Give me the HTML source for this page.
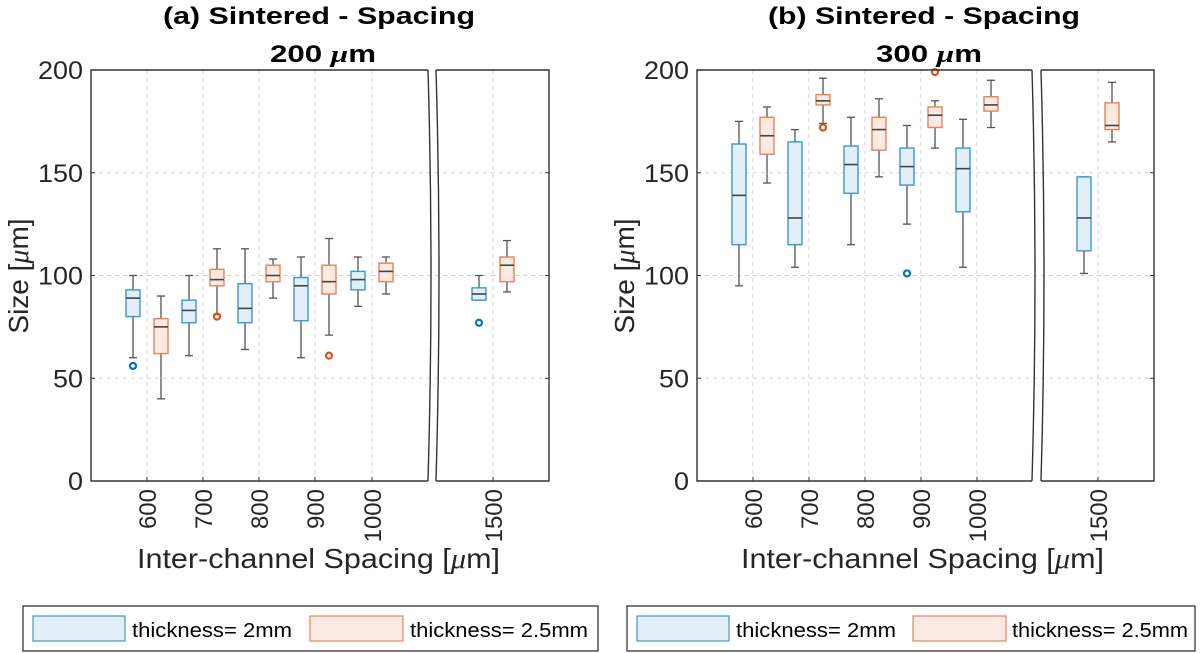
<!DOCTYPE html>
<html><head><meta charset="utf-8"><style>
body{margin:0;background:#fff;width:1200px;height:653px;overflow:hidden}
svg{display:block;font-family:"Liberation Sans",sans-serif}
</style></head><body>
<svg id="s" width="1200" height="653" viewBox="0 0 1200 653" xmlns="http://www.w3.org/2000/svg">
<text x="163" y="24" font-size="24" font-weight="bold" fill="#000" textLength="312" lengthAdjust="spacingAndGlyphs">(a) Sintered - Spacing</text>
<text x="270" y="62" font-size="24" font-weight="bold" fill="#000" textLength="106" lengthAdjust="spacingAndGlyphs">200 <tspan font-style="italic" font-family="Liberation Serif">μ</tspan>m</text>
<text x="768" y="24" font-size="24" font-weight="bold" fill="#000" textLength="312" lengthAdjust="spacingAndGlyphs">(b) Sintered - Spacing</text>
<text x="876" y="62" font-size="24" font-weight="bold" fill="#000" textLength="106" lengthAdjust="spacingAndGlyphs">300 <tspan font-style="italic" font-family="Liberation Serif">μ</tspan>m</text>
<g id="g"></g>
<text x="137" y="568" font-size="28" fill="#262626" textLength="363" lengthAdjust="spacingAndGlyphs">Inter-channel Spacing [<tspan font-style="italic" font-family="Liberation Serif">μ</tspan>m]</text>
<text x="741" y="568" font-size="28" fill="#262626" textLength="363" lengthAdjust="spacingAndGlyphs">Inter-channel Spacing [<tspan font-style="italic" font-family="Liberation Serif">μ</tspan>m]</text>
<text transform="translate(28,276) rotate(-90)" font-size="28" text-anchor="middle" fill="#262626">Size [<tspan font-style="italic" font-family="Liberation Serif">μ</tspan>m]</text>
<text transform="translate(634,276) rotate(-90)" font-size="28" text-anchor="middle" fill="#262626">Size [<tspan font-style="italic" font-family="Liberation Serif">μ</tspan>m]</text>
<rect x="23" y="606" width="575" height="45" fill="#fff" stroke="#262626" stroke-width="1.2"/>
<rect x="33" y="616" width="92" height="25" fill="#e3eff8" stroke="#3d97d3" stroke-width="1.2"/>
<text x="132" y="637" font-size="20" fill="#000" textLength="160" lengthAdjust="spacingAndGlyphs">thickness= 2mm</text>
<rect x="310" y="616" width="93" height="25" fill="#fbe9e2" stroke="#e9825a" stroke-width="1.2"/>
<text x="410" y="637" font-size="20" fill="#000" textLength="178" lengthAdjust="spacingAndGlyphs">thickness= 2.5mm</text>
<rect x="627" y="606" width="568" height="45" fill="#fff" stroke="#262626" stroke-width="1.2"/>
<rect x="637" y="616" width="92" height="25" fill="#e3eff8" stroke="#3d97d3" stroke-width="1.2"/>
<text x="736" y="637" font-size="20" fill="#000" textLength="160" lengthAdjust="spacingAndGlyphs">thickness= 2mm</text>
<rect x="913" y="616" width="93" height="25" fill="#fbe9e2" stroke="#e9825a" stroke-width="1.2"/>
<text x="1012" y="637" font-size="20" fill="#000" textLength="176" lengthAdjust="spacingAndGlyphs">thickness= 2.5mm</text>
</svg>
<script>
var g=document.getElementById('g'),h='';
function Y(v){return 481-v*2.055;}
function plot(L,B1,B2,R,grid,labels,boxes){
  for(var v=50;v<200;v+=50){h+='<line x1="'+L+'" x2="'+R+'" y1="'+Y(v)+'" y2="'+Y(v)+'" stroke="#d0d0d0" stroke-dasharray="4,4"/>';}
  grid.forEach(function(x){h+='<line x1="'+x+'" x2="'+x+'" y1="'+Y(200)+'" y2="'+Y(0)+'" stroke="#d0d0d0" stroke-dasharray="4,4"/>';});
  boxes.forEach(function(b){
    var x=b[0],c=b[1],st=c?'#e9825a':'#3d97d3',fl=c?'#fbe9e2':'#e3eff8',oc=c?'#d95319':'#0072bd',w=7;
    h+='<line x1="'+x+'" x2="'+x+'" y1="'+Y(b[2])+'" y2="'+Y(b[3])+'" stroke="#555" stroke-width="1.3"/>';
    h+='<line x1="'+(x-4)+'" x2="'+(x+4)+'" y1="'+Y(b[2])+'" y2="'+Y(b[2])+'" stroke="#555" stroke-width="1.3"/>';
    h+='<line x1="'+(x-4)+'" x2="'+(x+4)+'" y1="'+Y(b[3])+'" y2="'+Y(b[3])+'" stroke="#555" stroke-width="1.3"/>';
    h+='<rect x="'+(x-w)+'" y="'+Y(b[5])+'" width="'+(2*w)+'" height="'+(Y(b[4])-Y(b[5]))+'" fill="'+fl+'" stroke="'+st+'" stroke-width="1.4"/>';
    h+='<line x1="'+(x-w)+'" x2="'+(x+w)+'" y1="'+Y(b[6])+'" y2="'+Y(b[6])+'" stroke="#444" stroke-width="1.6"/>';
    if(b[7]!==undefined)h+='<circle cx="'+x+'" cy="'+Y(b[7])+'" r="3" fill="none" stroke="'+oc+'" stroke-width="2.2"/>';
  });
  var T=Y(200),Bt=Y(0),k='#333';
  h+='<polyline points="'+B1+','+T+' '+L+','+T+' '+L+','+Bt+' '+B1+','+Bt+'" fill="none" stroke="'+k+'" stroke-width="1.4"/>';
  h+='<polyline points="'+B2+','+T+' '+R+','+T+' '+R+','+Bt+' '+B2+','+Bt+'" fill="none" stroke="'+k+'" stroke-width="1.4"/>';
  var m=(T+Bt)/2;
  h+='<path d="M'+B1+' '+T+' Q'+(B1+6)+' '+m+' '+B1+' '+Bt+'" fill="none" stroke="'+k+'" stroke-width="1.4"/>';
  h+='<path d="M'+B2+' '+T+' Q'+(B2+6)+' '+m+' '+B2+' '+Bt+'" fill="none" stroke="'+k+'" stroke-width="1.4"/>';
  for(var v=0;v<=200;v+=50){
    h+='<line x1="'+L+'" x2="'+(L+4)+'" y1="'+Y(v)+'" y2="'+Y(v)+'" stroke="'+k+'"/>';
    h+='<line x1="'+(R-4)+'" x2="'+R+'" y1="'+Y(v)+'" y2="'+Y(v)+'" stroke="'+k+'"/>';
    var s=String(v);
    h+='<text x="'+(L-8)+'" y="'+(Y(v)+9)+'" font-size="25" text-anchor="end" fill="#262626" textLength="'+(s.length*15)+'" lengthAdjust="spacingAndGlyphs">'+s+'</text>';
  }
  grid.forEach(function(x,i){
    h+='<line x1="'+x+'" x2="'+x+'" y1="'+Bt+'" y2="'+(Bt-4)+'" stroke="'+k+'"/>';
    h+='<text transform="translate('+(x+9)+','+(Bt+8)+') rotate(-90)" font-size="24" text-anchor="end" fill="#262626">'+labels[i]+'</text>';
  });
}
var lab=['600','700','800','900','1000','1500'];
var ga=[147,203,259,315,372,493],d=14;
plot(91,428,436,549,ga,lab,[
 [ga[0]-d,0,60,100,80,93,89,56],[ga[0]+d,1,40,90,62,79,75],
 [ga[1]-d,0,61,100,77,88,83],[ga[1]+d,1,81,113,95,103,98,80],
 [ga[2]-d,0,64,113,77,96,84],[ga[2]+d,1,89,108,97,105,100],
 [ga[3]-d,0,60,109,78,99,95],[ga[3]+d,1,71,118,91,105,97,61],
 [ga[4]-d,0,85,109,93,102,98],[ga[4]+d,1,91,109,97,106,102],
 [ga[5]-d,0,88,100,88,94,91,77],[ga[5]+d,1,92,117,97,109,105]]);
var gb=[753,809,865,921,977,1098];
plot(697,1032,1041,1154,gb,lab,[
 [gb[0]-d,0,95,175,115,164,139],[gb[0]+d,1,145,182,159,177,168],
 [gb[1]-d,0,104,171,115,165,128],[gb[1]+d,1,174,196,183,188,185,172],
 [gb[2]-d,0,115,177,140,163,154],[gb[2]+d,1,148,186,161,177,171],
 [gb[3]-d,0,125,173,144,162,153,101],[gb[3]+d,1,162,185,172,182,178,199],
 [gb[4]-d,0,104,176,131,162,152],[gb[4]+d,1,172,195,180,187,183],
 [gb[5]-d,0,101,148,112,148,128],[gb[5]+d,1,165,194,171,184,173]]);
g.innerHTML=h;
</script>
</body></html>
